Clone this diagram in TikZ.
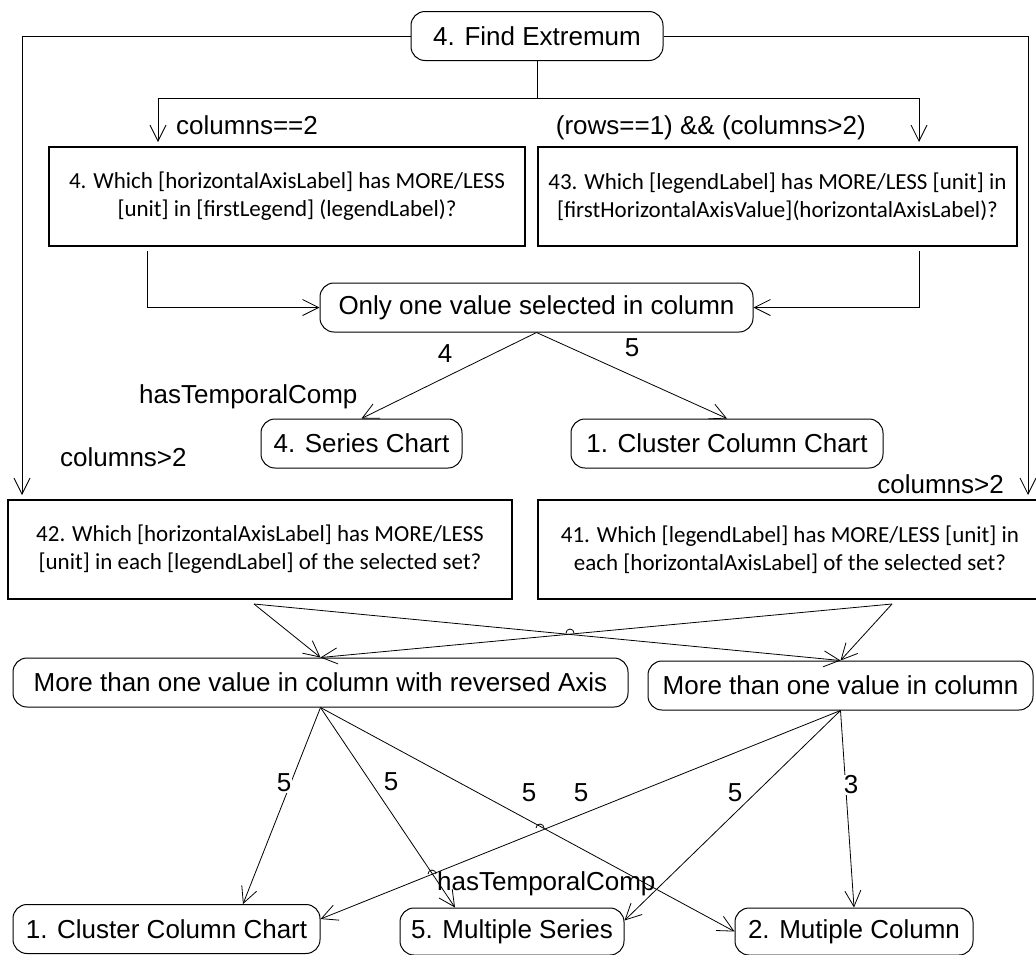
\documentclass[tikz,border=0pt]{standalone}
\usepackage{fontspec}
\setmainfont{Liberation Sans}
\newfontfamily\boxfont{Carlito}
\usetikzlibrary{arrows.meta}
\begin{document}
\begin{tikzpicture}[x=1pt,y=-1pt,
  lab/.style={font=\fontsize{26}{30}\selectfont, inner sep=0pt},
  rnode/.style={draw, rounded corners=14pt, line width=1pt, font=\fontsize{26}{30}\selectfont, minimum height=49pt, inner sep=0pt},
  qbox/.style={draw, line width=1.2pt, font=\boxfont\fontsize{23}{28}\selectfont, align=center, minimum height=99pt, inner sep=0pt},
  arr/.style={-{Straight Barb[length=16pt,width=16pt]}, line width=0.8pt},
  ln/.style={line width=0.8pt},
  num/.style={lab, fill=white, inner sep=1pt}]
\useasboundingbox (0,0) rectangle (1036,954);
% nodes
\node[rnode, minimum width=252pt] (top) at (537,36) {4. Find Extremum};
\node[qbox, minimum width=476pt] (bA) at (287,196.5) {4. Which [horizontalAxisLabel] has MORE/LESS\\{}[unit] in [firstLegend] (legendLabel)?};
\node[qbox, minimum width=479pt] (bB) at (777.5,196.5) {43. Which [legendLabel] has MORE/LESS [unit] in\\{}[firstHorizontalAxisValue](horizontalAxisLabel)?};
\node[rnode, minimum width=433pt] (only) at (536.5,307.5) {Only one value selected in column};
\node[rnode, minimum width=201pt] (ser) at (361.5,443.5) {4. Series Chart};
\node[rnode, minimum width=312pt] (cc1) at (727,443.5) {1. Cluster Column Chart};
\node[qbox, minimum width=504pt] (bC) at (260,549.5) {42. Which [horizontalAxisLabel] has MORE/LESS\\{}[unit] in each [legendLabel] of the selected set?};
\node[qbox, minimum width=504pt] (bD) at (790,549.5) {41. Which [legendLabel] has MORE/LESS [unit] in\\{}each [horizontalAxisLabel] of the selected set?};
\node[rnode, minimum width=615pt] (rev) at (320.5,682.5) {More than one value in column with reversed Axis};
\node[rnode, minimum width=385pt] (more) at (840.5,685.5) {More than one value in column};
\node[rnode, minimum width=307pt] (cc2) at (166.5,929) {1. Cluster Column Chart};
\node[rnode, minimum width=224pt, minimum height=47pt] (ms) at (512,931.5) {5. Multiple Series};
\node[rnode, minimum width=238pt, minimum height=47pt] (mc) at (854,931.5) {2. Mutiple Column};
% coordinates
\coordinate (jt) at (537,98);
\coordinate (aA) at (158,142);
\coordinate (aB) at (919,142);
\coordinate (aL) at (22,495);
\coordinate (aR) at (1028,495);
\coordinate (oA) at (147,251);
\coordinate (oB) at (919,251);
\coordinate (cS) at (254,604);
\coordinate (dS) at (892,604);
% connectors
\draw[ln] (top.south) -- (jt);
\draw[arr] (jt) -| (aA);
\draw[arr] (jt) -| (aB);
\draw[arr] (top.west) -| (aL);
\draw[arr] (top.east) -| (aR);
\draw[arr] (oA) |- (only.west);
\draw[arr] (oB) |- (only.east);
\draw[arr] (only.south) -- (ser.north);
\draw[arr] (only.south) -- (cc1.north);
\draw[arr] (cS) -- (rev.north);
\draw[arr] (cS) -- (more.north);
\draw[arr] (dS) -- (rev.north);
\draw[arr] (dS) -- (more.north);
\draw[arr] (rev.south) -- ([xshift=76.5pt]cc2.north);
\draw[arr] (rev.south) -- ([xshift=-57pt]ms.north);
\draw[arr] (rev.south) -- (mc.west);
\draw[arr] (more.south) -- ([yshift=10pt]cc2.east);
\draw[arr] (more.south) -- ([yshift=11pt]ms.east);
\draw[arr] (more.south) -- (mc.north);
% line hops
\draw[ln] (566,633) arc[start angle=180,end angle=0,radius=4pt];
\draw[ln] (536,828) arc[start angle=180,end angle=0,radius=4pt];
\draw[ln] (428,874) arc[start angle=180,end angle=0,radius=4pt];
% labels
\node[lab, anchor=base west] (l1) at (176,134) {columns==2};
\node[lab, anchor=base east] (l2) at (866,134) {(rows==1) \&\& (columns>2)};
\node[lab] (l3) at (445,354) {4};
\node[lab] (l4) at (632,348) {5};
\node[lab, anchor=base west] (l5) at (139,403) {hasTemporalComp};
\node[lab, anchor=base west] (l6) at (60,466) {columns>2};
\node[lab, anchor=base east] (l7) at (1004,493) {columns>2};
\node[lab, anchor=base west] (l8) at (437,890) {hasTemporalComp};
\node[num] (n1) at (284,783) {5};
\node[lab] (n2) at (391,782) {5};
\node[lab] (n3) at (529,793) {5};
\node[lab] (n4) at (581,793) {5};
\node[num] (n5) at (735,793) {5};
\node[num] (n6) at (851,785) {3};
\end{tikzpicture}
\end{document}
